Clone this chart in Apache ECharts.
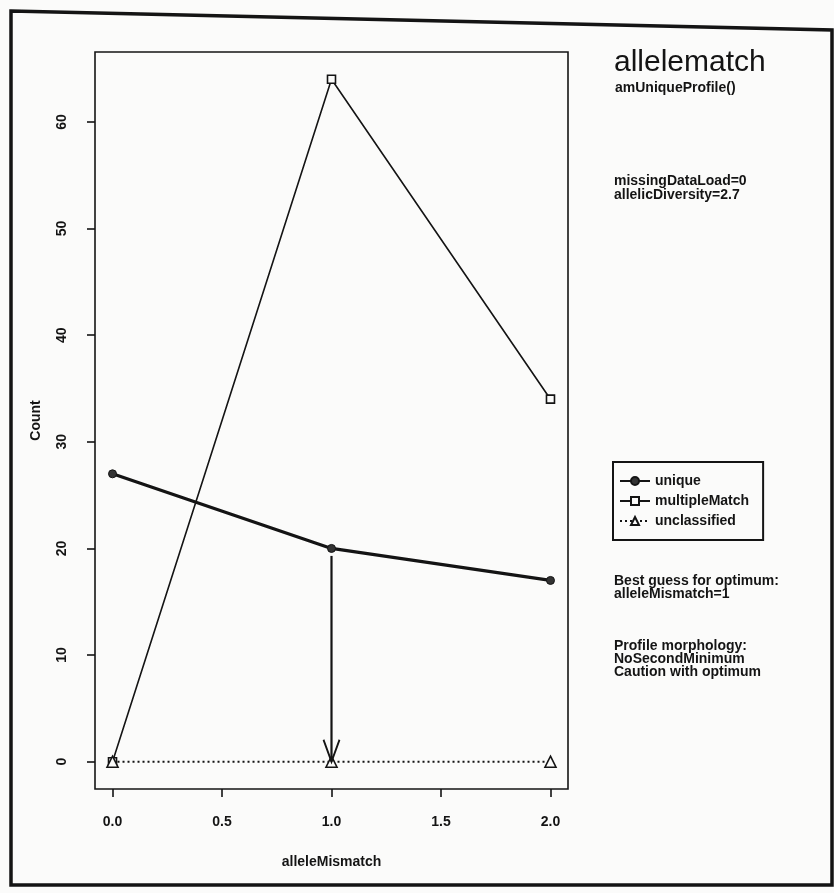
<!DOCTYPE html>
<html>
<head>
<meta charset="utf-8">
<script src="https://cdn.jsdelivr.net/npm/echarts@6/dist/echarts.min.js"></script>
<style>
html,body{margin:0;padding:0;background:#fbfbfa;}
#chart{width:834px;height:893px;}
</style>
</head>
<body>
<div id="chart"></div>
<script>
// ---- data ----
var alleleMismatch = [0, 1, 2];
var uniqueCounts = [27, 20, 17];
var multipleMatchCounts = [0, 64, 34];
var unclassifiedCounts = [0, 0, 0];
var xTicks = [0, 0.5, 1, 1.5, 2];
var yTicks = [0, 10, 20, 30, 40, 50, 60];
var optimumX = 1;
var arrowFrom = 19.3;
var arrowTo = 0;
var titleText = 'allelematch';
var subtitleText = 'amUniqueProfile()';
var paramLines = ['missingDataLoad=0', 'allelicDiversity=2.7'];
var guessLines = ['Best guess for optimum:', 'alleleMismatch=1'];
var morphLines = ['Profile morphology:', 'NoSecondMinimum', 'Caution with optimum'];

function pairs(xs, ys) { return xs.map(function (x, i) { return [x, ys[i]]; }); }

var ink = '#141414';
var font = '"Liberation Sans", Arial, Helvetica, sans-serif';

var chart = echarts.init(document.getElementById('chart'));
var option = {
  backgroundColor: '#fbfbfa',
  animation: false,
  textStyle: { fontFamily: font, color: ink },
  grid: {
    left: 95, top: 52, width: 473, height: 737,
    show: true, borderColor: ink, borderWidth: 1.6, backgroundColor: 'transparent',
    containLabel: false
  },
  xAxis: {
    type: 'value', min: -0.08, max: 2.08,
    axisLine: { show: false, onZero: false },
    splitLine: { show: false },
    axisTick: { show: true, length: 8, inside: false, customValues: xTicks, lineStyle: { color: ink, width: 1.6 } },
    axisLabel: {
      customValues: xTicks, margin: 26, fontSize: 14, fontWeight: 'bold', color: ink, fontFamily: font,
      formatter: function (v) { return v.toFixed(1); }
    },
    name: 'alleleMismatch', nameLocation: 'middle', nameGap: 66,
    nameTextStyle: { fontSize: 14, fontWeight: 'bold', color: ink, fontFamily: font }
  },
  yAxis: {
    type: 'value', min: -2.56, max: 66.56,
    axisLine: { show: false, onZero: false },
    splitLine: { show: false },
    axisTick: { show: true, length: 8, inside: false, customValues: yTicks, lineStyle: { color: ink, width: 1.6 } },
    axisLabel: {
      customValues: yTicks, margin: 26, rotate: 90, fontSize: 14, fontWeight: 'bold', color: ink, fontFamily: font
    },
    name: 'Count', nameLocation: 'middle', nameGap: 52, nameRotate: 90,
    nameTextStyle: { fontSize: 14, fontWeight: 'bold', color: ink, fontFamily: font }
  },
  legend: {
    data: ['unique', 'multipleMatch', 'unclassified'],
    orient: 'vertical', left: 613, top: 462,
    padding: [12, 14, 12, 6],
    itemGap: 6, itemWidth: 30, itemHeight: 10,
    borderColor: ink, borderWidth: 2,
    textStyle: { fontSize: 14, fontWeight: 'bold', color: ink, fontFamily: font }
  },
  series: [
    {
      name: 'unique', type: 'line', data: pairs(alleleMismatch, uniqueCounts),
      symbol: 'circle', symbolSize: 8, showAllSymbol: true,
      lineStyle: { color: ink, width: 3.2 },
      itemStyle: { color: '#333', borderColor: ink, borderWidth: 1 },
      z: 3
    },
    {
      name: 'multipleMatch', type: 'line', data: pairs(alleleMismatch, multipleMatchCounts),
      symbol: 'rect', symbolSize: 8, showAllSymbol: true,
      lineStyle: { color: ink, width: 1.6 },
      itemStyle: { color: '#fbfbfa', borderColor: ink, borderWidth: 1.6 },
      z: 3
    },
    {
      name: 'unclassified', type: 'line', data: pairs(alleleMismatch, unclassifiedCounts),
      symbol: 'triangle', symbolSize: 11, showAllSymbol: true,
      lineStyle: { color: ink, width: 2, type: [2, 3] },
      itemStyle: { color: '#fbfbfa', borderColor: ink, borderWidth: 1.6 },
      z: 4
    },
    {
      name: 'optimumArrow', type: 'line',
      data: [
        { value: [optimumX, arrowFrom], symbol: 'none' },
        { value: [optimumX, arrowTo], symbol: 'path://M0,0 L5,10 L10,0', symbolSize: [16, 22], symbolOffset: [0, '-50%'] }
      ],
      lineStyle: { color: ink, width: 2.2 },
      itemStyle: { color: 'transparent', borderColor: ink, borderWidth: 2.2 },
      z: 5, silent: true
    }
  ],
  graphic: [
    { type: 'polygon', shape: { points: [[11, 11], [832, 30], [832, 885], [11, 885]] },
      style: { fill: 'transparent', stroke: ink, lineWidth: 3.5 }, silent: true },
    { type: 'text', left: 614, top: 48, style: { text: titleText, font: '30px ' + font, fill: ink } },
    { type: 'text', left: 615, top: 81, style: { text: subtitleText, font: 'bold 14px ' + font, fill: ink } },
    { type: 'text', left: 614, top: 174, style: { text: paramLines.join('\n'), font: 'bold 14px ' + font, lineHeight: 14, fill: ink } },
    { type: 'text', left: 614, top: 574, style: { text: guessLines.join('\n'), font: 'bold 14px ' + font, lineHeight: 13, fill: ink } },
    { type: 'text', left: 614, top: 639, style: { text: morphLines.join('\n'), font: 'bold 14px ' + font, lineHeight: 13, fill: ink } }
  ]
};
chart.setOption(option);
</script>
</body>
</html>
